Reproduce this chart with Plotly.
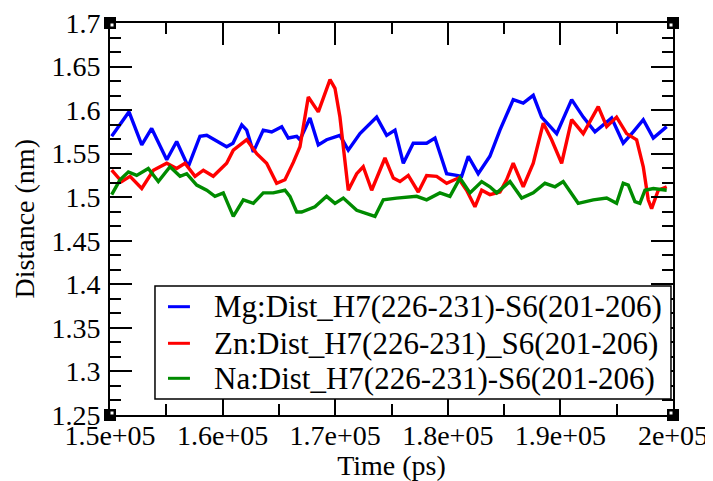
import plotly.graph_objects as go

# ---- data ----
mg_time = [150150, 151690, 152820, 153700, 155040, 155920, 156950, 157990, 158590, 160360,
           160920, 161700, 162140, 162730, 163610, 164360, 165250, 165830, 166580, 166870,
           167760, 168500, 169240, 170420, 171160, 172200, 173680, 174570, 175310, 176050,
           176930, 178120, 178860, 179300, 179900, 180790, 181230, 181820, 182700, 183740,
           184630, 185810, 186700, 187590, 188330, 189670, 191000, 192030, 193070, 194550,
           195580, 196470, 197360, 198250, 199440]
mg_dist = [1.570, 1.598, 1.560, 1.579, 1.543, 1.564, 1.535, 1.570, 1.571, 1.558,
           1.562, 1.583, 1.577, 1.552, 1.577, 1.575, 1.581, 1.568, 1.570, 1.566,
           1.591, 1.560, 1.566, 1.571, 1.554, 1.573, 1.592, 1.571, 1.577, 1.539,
           1.562, 1.562, 1.568, 1.550, 1.527, 1.525, 1.524, 1.547, 1.527, 1.547,
           1.577, 1.612, 1.608, 1.617, 1.592, 1.573, 1.612, 1.592, 1.575, 1.591,
           1.562, 1.575, 1.589, 1.568, 1.581]

zn_time = [150150, 151040, 151780, 152820, 153850, 155040, 155920, 156660, 157550, 158290,
           159170, 160360, 160950, 162140, 163030, 163910, 164800, 165540, 166280, 166870,
           167610, 168500, 169540, 169980, 170420, 171160, 171910, 172490, 173240, 174420,
           175160, 175750, 176490, 177380, 178120, 179010, 179900, 180930, 181670, 182410,
           183010, 183740, 184630, 185220, 185810, 186700, 187590, 188480, 189220, 190110,
           191000, 192030, 193360, 194110, 194990, 195880, 196770, 197360, 197800, 198100,
           198690, 199440]
zn_dist = [1.531, 1.518, 1.524, 1.510, 1.531, 1.539, 1.533, 1.539, 1.524, 1.531,
           1.524, 1.539, 1.554, 1.566, 1.550, 1.539, 1.516, 1.520, 1.540, 1.558,
           1.615, 1.598, 1.635, 1.625, 1.592, 1.508, 1.527, 1.535, 1.508, 1.545,
           1.522, 1.518, 1.525, 1.506, 1.525, 1.524, 1.516, 1.522, 1.508, 1.489,
           1.508, 1.503, 1.506, 1.520, 1.539, 1.512, 1.539, 1.585, 1.566, 1.539,
           1.589, 1.573, 1.604, 1.581, 1.592, 1.573, 1.566, 1.535, 1.497, 1.487,
           1.508, 1.512]

na_time = [150150, 150890, 151630, 152370, 153400, 154290, 155330, 156220, 156810, 157700,
           158590, 159320, 160060, 160950, 161840, 162730, 163610, 164500, 165540, 165980,
           166580, 167020, 168200, 169240, 169980, 170720, 171910, 173530, 174270, 175460,
           177230, 178120, 179300, 180190, 181080, 181970, 183010, 183740, 184340, 185520,
           186560, 187590, 188630, 189520, 190250, 191580, 192920, 194110, 194990, 195580,
           196030, 196620, 197060, 197510, 198250, 199440]
na_dist = [1.503, 1.520, 1.529, 1.525, 1.533, 1.518, 1.535, 1.524, 1.527, 1.514,
           1.508, 1.501, 1.505, 1.478, 1.497, 1.493, 1.505, 1.505, 1.508, 1.501,
           1.483, 1.483, 1.489, 1.501, 1.493, 1.499, 1.485, 1.478, 1.497, 1.499,
           1.501, 1.497, 1.505, 1.501, 1.522, 1.505, 1.518, 1.512, 1.505, 1.518,
           1.499, 1.505, 1.516, 1.512, 1.518, 1.493, 1.497, 1.499, 1.493, 1.516,
           1.514, 1.495, 1.493, 1.508, 1.510, 1.508]

series_names = ["Mg:Dist_H7(226-231)-S6(201-206)",
                "Zn:Dist_H7(226-231)_S6(201-206)",
                "Na:Dist_H7(226-231)-S6(201-206)"]

x_tickvals = [150000, 160000, 170000, 180000, 190000, 200000]
x_ticktext = ["1.5e+05", "1.6e+05", "1.7e+05", "1.8e+05", "1.9e+05", "2e+05"]
y_tickvals = [1.25, 1.3, 1.35, 1.4, 1.45, 1.5, 1.55, 1.6, 1.65, 1.7]
y_ticktext = ["1.25", "1.3", "1.35", "1.4", "1.45", "1.5", "1.55", "1.6", "1.65", "1.7"]
x_title = "Time (ps)"
y_title = "Distance (nm)"

FONT = "Liberation Serif"
colors = ["#0000ff", "#ff0000", "#008b00"]

fig = go.Figure()
for t, d, name, c in zip([mg_time, zn_time, na_time], [mg_dist, zn_dist, na_dist],
                         series_names, colors):
    fig.add_trace(go.Scatter(x=t, y=d, mode="lines", name=name, showlegend=False,
                             line=dict(color=c, width=3.4)))

axis_common = dict(showgrid=False, zeroline=False, showline=True, linecolor="black",
                   linewidth=2, mirror="allticks", ticks="inside", tickcolor="black",
                   tickwidth=1.5, ticklen=22, automargin=False, ticklabeloverflow="allow",
                   tickfont=dict(family=FONT, size=28, color="black"))

fig.update_xaxes(range=[150000, 200000], tickmode="array", tickvals=x_tickvals,
                 ticktext=x_ticktext, ticklabelstandoff=-6,
                 minor=dict(dtick=5000, tick0=150000, ticks="inside", ticklen=11,
                            tickcolor="black", tickwidth=1.5),
                 title=dict(text=x_title, font=dict(family=FONT, size=28, color="black"),
                            standoff=5),
                 **axis_common)
fig.update_yaxes(range=[1.25, 1.7], tickmode="array", tickvals=y_tickvals,
                 ticktext=y_ticktext, ticklabelstandoff=2,
                 minor=dict(dtick=0.05 / 3, tick0=1.25, ticks="inside", ticklen=11,
                            tickcolor="black", tickwidth=1.5),
                 **axis_common)

# y-axis title placed in the left margin
fig.add_annotation(xref="paper", yref="paper", x=-0.152, y=0.5, text=y_title,
                   textangle=-90, showarrow=False, xanchor="center", yanchor="middle",
                   borderpad=0, font=dict(family=FONT, size=28, color="black"))

# corner squares of the frame
for cx, cy in [(0, 0), (1, 0), (0, 1), (1, 1)]:
    fig.add_shape(type="rect", xref="paper", yref="paper", xsizemode="pixel",
                  ysizemode="pixel", xanchor=cx, yanchor=cy, x0=-6, x1=6, y0=-6, y1=6,
                  fillcolor="black", line=dict(width=0), layer="above")
    sx = 1 if cx == 0 else -1
    sy = 1 if cy == 0 else -1
    fig.add_shape(type="rect", xref="paper", yref="paper", xsizemode="pixel",
                  ysizemode="pixel", xanchor=cx, yanchor=cy,
                  x0=min(0, 4 * sx), x1=max(0, 4 * sx), y0=min(0, 4 * sy), y1=max(0, 4 * sy),
                  fillcolor="white", line=dict(color="black", width=1), layer="above")

# legend box (Grace style) built from shapes + text
fig.add_shape(type="rect", xref="paper", yref="paper", x0=0.0799, x1=0.9964,
              y0=0.0408, y1=0.3291, fillcolor="white",
              line=dict(color="black", width=1.5), layer="above")
row_y = [0.2763, 0.1829, 0.0936]
for name, c, ry in zip(series_names, colors, row_y):
    fig.add_shape(type="line", xref="paper", yref="paper", x0=0.103, x1=0.142,
                  y0=ry, y1=ry, line=dict(color=c, width=3), layer="above")
    fig.add_annotation(xref="paper", yref="paper", x=0.1806, y=ry, text=name,
                       showarrow=False, xanchor="left", yanchor="middle",
                       font=dict(family=FONT, size=31, color="black"))

fig.update_layout(
    width=705, height=473,
    margin=dict(l=102, r=40, t=15, b=66),
    paper_bgcolor="white", plot_bgcolor="white",
    font=dict(family=FONT, size=28, color="black"),
    showlegend=False,
)

fig.write_html("out.html")
